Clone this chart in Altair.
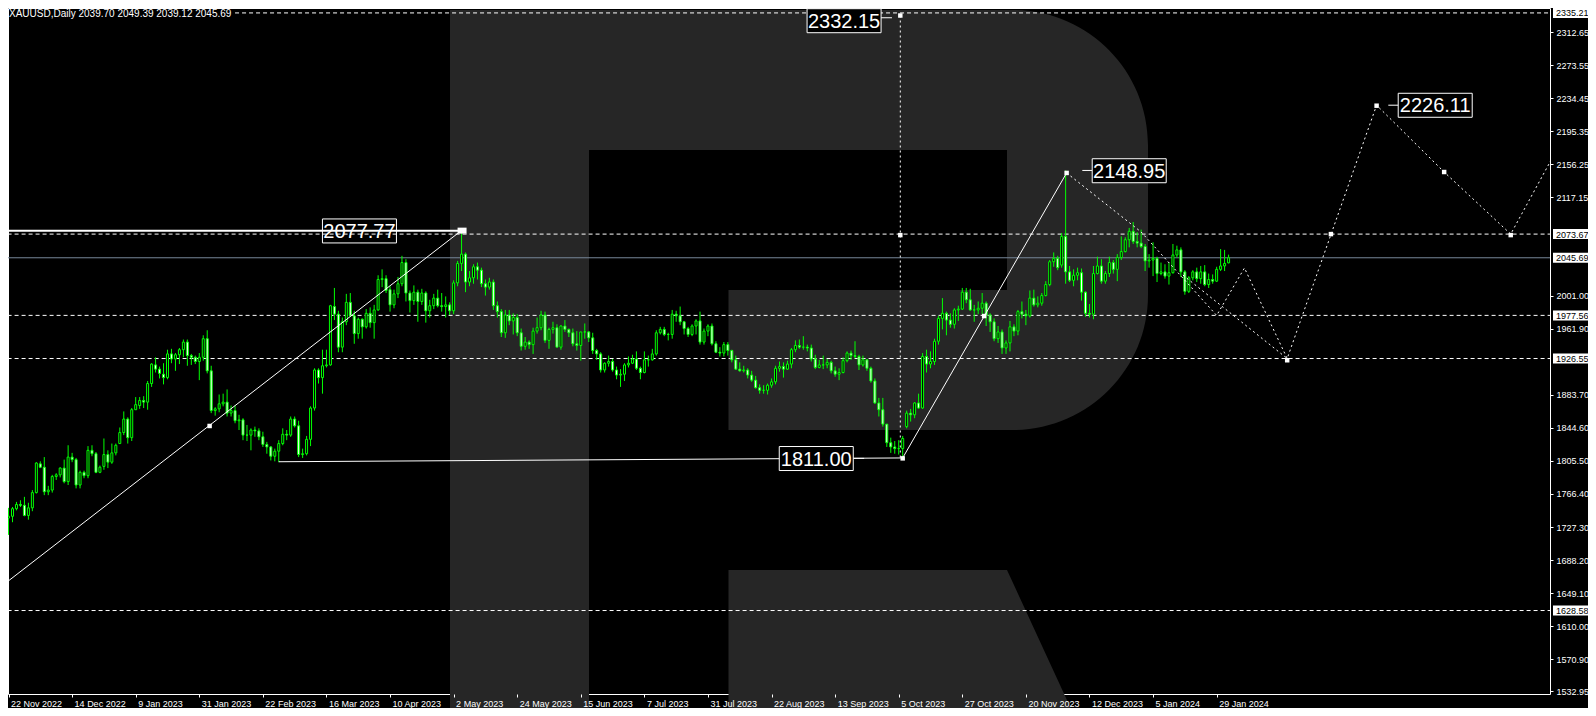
import json
import altair as alt
import pandas as pd

# ---------------- data ----------------
TICK_BARS = [0, 16, 32, 48, 64, 80, 96, 112, 128, 144, 160, 176, 192, 208, 224, 240, 256, 272, 288, 304]
TICK_LABELS = ["22 Nov 2022", "14 Dec 2022", "9 Jan 2023", "31 Jan 2023", "22 Feb 2023", "16 Mar 2023",
               "10 Apr 2023", "2 May 2023", "24 May 2023", "15 Jun 2023", "7 Jul 2023", "31 Jul 2023",
               "22 Aug 2023", "13 Sep 2023", "5 Oct 2023", "27 Oct 2023", "20 Nov 2023", "12 Dec 2023",
               "5 Jan 2024", "29 Jan 2024"]

OPEN = [
    1738, 1740, 1749, 1754, 1753, 1741, 1750, 1768, 1802, 1798, 1769, 1771, 1787, 1789, 1797, 1781,
    1810, 1807, 1777, 1792, 1788, 1818, 1814, 1792, 1799, 1813, 1804, 1815, 1826, 1839, 1855, 1833,
    1866, 1871, 1877, 1875, 1897, 1919, 1914, 1908, 1904, 1932, 1926, 1931, 1937, 1946, 1930, 1928,
    1923, 1928, 1950, 1912, 1865, 1867, 1873, 1875, 1862, 1865, 1853, 1854, 1836, 1836, 1842, 1841,
    1834, 1825, 1822, 1811, 1817, 1826, 1837, 1836, 1855, 1847, 1813, 1814, 1831, 1868, 1913, 1904,
    1918, 1919, 1988, 1979, 1940, 1970, 1993, 1977, 1956, 1973, 1964, 1980, 1969, 1984, 2020, 2021,
    2008, 1990, 2003, 2015, 2040, 2004, 1995, 2005, 1994, 2004, 1983, 1989, 1998, 1989, 1988, 1990,
    1983, 2016, 2039, 2050, 2017, 2022, 2035, 2031, 2015, 2011, 2017, 1989, 1982, 1957, 1978, 1971,
    1975, 1957, 1941, 1946, 1943, 1959, 1963, 1978, 1948, 1961, 1963, 1940, 1965, 1961, 1957, 1944,
    1942, 1958, 1958, 1951, 1936, 1932, 1913, 1921, 1923, 1913, 1907, 1908, 1919, 1921, 1926, 1915,
    1910, 1925, 1925, 1932, 1957, 1961, 1955, 1955, 1979, 1977, 1970, 1962, 1955, 1965, 1971, 1946,
    1959, 1965, 1944, 1934, 1933, 1943, 1936, 1925, 1914, 1912, 1913, 1907, 1901, 1892, 1889, 1889,
    1895, 1899, 1915, 1917, 1914, 1920, 1937, 1942, 1940, 1940, 1939, 1926, 1916, 1919, 1919, 1922,
    1912, 1908, 1910, 1924, 1933, 1930, 1929, 1919, 1925, 1915, 1900, 1874, 1866, 1849, 1827, 1822,
    1820, 1820, 1846, 1862, 1860, 1874, 1868, 1929, 1920, 1923, 1947, 1974, 1980, 1972, 1967, 1984,
    1985, 2005, 1996, 1984, 1984, 1986, 1992, 1978, 1970, 1950, 1958, 1939, 1945, 1964, 1959, 1982,
    1979, 1977, 1998, 1990, 1992, 2001, 2014, 2041, 2045, 2037, 2071, 2029, 2019, 2025, 2028, 2005,
    1980, 1979, 2027, 2036, 2018, 2027, 2040, 2032, 2046, 2053, 2067, 2077, 2065, 2063, 2059, 2042,
    2043, 2045, 2027, 2029, 2024, 2028, 2049, 2055, 2029, 2006, 2022, 2029, 2021, 2029, 2014, 2020,
    2018, 2032, 2036, 2039.70,
]
HIGH = [
    1750, 1751, 1757, 1759, 1763, 1756, 1771, 1804, 1805, 1810, 1776, 1789, 1791, 1798, 1807, 1824,
    1815, 1809, 1794, 1794, 1823, 1824, 1816, 1800, 1832, 1818, 1826, 1826, 1845, 1864, 1857, 1868,
    1881, 1881, 1882, 1900, 1921, 1928, 1917, 1921, 1937, 1938, 1933, 1939, 1949, 1949, 1932, 1930,
    1933, 1954, 1960, 1918, 1869, 1884, 1885, 1890, 1871, 1871, 1860, 1856, 1848, 1844, 1846, 1844,
    1840, 1828, 1823, 1820, 1830, 1844, 1842, 1858, 1858, 1853, 1820, 1835, 1870, 1915, 1915, 1937,
    1937, 1990, 2010, 1983, 1975, 2003, 2004, 1983, 1975, 1974, 1985, 1987, 1990, 2025, 2032, 2025,
    2012, 2008, 2023, 2048, 2044, 2007, 2013, 2008, 2009, 2006, 1996, 2003, 2008, 2004, 2000, 1993,
    2019, 2042, 2078, 2052, 2030, 2038, 2040, 2034, 2020, 2022, 2020, 1994, 1985, 1984, 1984, 1980,
    1979, 1962, 1952, 1948, 1963, 1975, 1983, 1982, 1963, 1970, 1967, 1966, 1972, 1962, 1962, 1959,
    1958, 1968, 1959, 1957, 1938, 1934, 1922, 1930, 1926, 1917, 1914, 1921, 1929, 1931, 1935, 1917,
    1935, 1930, 1938, 1960, 1964, 1964, 1957, 1984, 1983, 1988, 1971, 1964, 1967, 1973, 1982, 1962,
    1967, 1968, 1947, 1940, 1946, 1946, 1937, 1930, 1922, 1918, 1915, 1912, 1906, 1896, 1895, 1897,
    1903, 1918, 1923, 1922, 1924, 1939, 1948, 1949, 1953, 1943, 1943, 1931, 1925, 1930, 1926, 1924,
    1917, 1915, 1928, 1935, 1936, 1947, 1931, 1930, 1926, 1917, 1903, 1880, 1880, 1849, 1833, 1829,
    1830, 1835, 1865, 1867, 1875, 1885, 1933, 1937, 1935, 1950, 1977, 1998, 1982, 1980, 1986, 1989,
    2010, 2010, 2009, 1990, 1994, 2004, 1994, 1980, 1974, 1965, 1961, 1948, 1971, 1967, 1984, 1994,
    1984, 2007, 2008, 2000, 2004, 2018, 2043, 2052, 2048, 2075, 2148.95, 2036, 2032, 2034, 2033, 2006,
    1991, 2036, 2047, 2044, 2030, 2047, 2043, 2050, 2071, 2070, 2081, 2088, 2076, 2079, 2062, 2050,
    2064, 2047, 2040, 2038, 2040, 2062, 2060, 2058, 2031, 2024, 2031, 2034, 2036, 2037, 2027, 2026,
    2035, 2056, 2055, 2049.39,
]
LOW = [
    1718, 1733, 1747, 1751, 1740, 1736, 1746, 1767, 1797, 1765, 1765, 1768, 1783, 1786, 1779, 1777,
    1804, 1773, 1773, 1785, 1785, 1811, 1791, 1791, 1795, 1797, 1802, 1812, 1826, 1836, 1826, 1829,
    1866, 1867, 1868, 1866, 1893, 1910, 1903, 1896, 1902, 1921, 1912, 1920, 1928, 1918, 1919, 1920,
    1901, 1924, 1909, 1862, 1859, 1863, 1870, 1858, 1858, 1850, 1842, 1830, 1829, 1818, 1834, 1830,
    1822, 1814, 1806, 1805, 1804, 1824, 1830, 1834, 1845, 1810, 1809, 1812, 1823, 1865, 1897, 1885,
    1916, 1918, 1972, 1934, 1934, 1966, 1976, 1944, 1950, 1950, 1962, 1963, 1950, 1983, 2011, 2004,
    1982, 1986, 1998, 2012, 1994, 1981, 1990, 1970, 1990, 1969, 1975, 1985, 1987, 1982, 1975, 1978,
    1979, 2012, 2030, 2005, 2012, 2015, 2020, 2011, 2001, 2008, 1984, 1975, 1952, 1951, 1966, 1955,
    1953, 1936, 1937, 1938, 1932, 1956, 1960, 1945, 1938, 1956, 1940, 1937, 1958, 1952, 1941, 1936,
    1924, 1950, 1946, 1932, 1925, 1910, 1910, 1917, 1911, 1902, 1893, 1900, 1916, 1920, 1913, 1902,
    1909, 1917, 1924, 1930, 1955, 1953, 1948, 1950, 1970, 1966, 1955, 1952, 1953, 1955, 1943, 1943,
    1953, 1942, 1933, 1929, 1929, 1930, 1922, 1913, 1911, 1910, 1903, 1899, 1891, 1885, 1885, 1884,
    1892, 1896, 1911, 1904, 1913, 1915, 1934, 1938, 1937, 1935, 1923, 1914, 1915, 1914, 1915, 1909,
    1905, 1901, 1909, 1922, 1925, 1927, 1913, 1917, 1912, 1898, 1873, 1858, 1846, 1822, 1815, 1814,
    1813, 1809, 1844, 1852, 1856, 1867, 1867, 1910, 1915, 1919, 1943, 1961, 1954, 1963, 1962, 1971,
    1984, 1992, 1983, 1970, 1979, 1979, 1965, 1958, 1947, 1945, 1932, 1932, 1935, 1953, 1954, 1974,
    1966, 1975, 1988, 1987, 1989, 2000, 2012, 2035, 2031, 2034, 2015, 2017, 2012, 2019, 1995, 1976,
    1975, 1973, 2026, 2015, 2015, 2023, 2027, 2018, 2043, 2052, 2058, 2062, 2058, 2057, 2030, 2034,
    2024, 2017, 2025, 2021, 2014, 2027, 2046, 2023, 2002, 2004, 2019, 2017, 2015, 2012, 2010, 2015,
    2017, 2030, 2030, 2039.12,
]
CLOSE = [
    1740, 1749, 1754, 1753, 1741, 1750, 1768, 1803, 1798, 1769, 1771, 1787, 1789, 1797, 1781, 1810,
    1807, 1777, 1792, 1788, 1818, 1814, 1792, 1798, 1813, 1804, 1815, 1824, 1839, 1855, 1833, 1866,
    1872, 1877, 1875, 1897, 1920, 1914, 1909, 1904, 1932, 1926, 1931, 1937, 1946, 1930, 1928, 1923,
    1928, 1950, 1912, 1865, 1867, 1873, 1875, 1862, 1865, 1853, 1854, 1836, 1836, 1842, 1841, 1834,
    1825, 1822, 1811, 1817, 1826, 1837, 1836, 1855, 1847, 1813, 1814, 1831, 1868, 1913, 1904, 1918,
    1919, 1989, 1979, 1940, 1970, 1993, 1977, 1956, 1973, 1964, 1980, 1969, 1984, 2020, 2021, 2007,
    1990, 2003, 2015, 2040, 2004, 1995, 2005, 1994, 2004, 1983, 1989, 1998, 1989, 1988, 1990, 1983,
    2016, 2039, 2050, 2017, 2022, 2035, 2031, 2015, 2011, 2017, 1989, 1982, 1957, 1978, 1971, 1975,
    1957, 1941, 1946, 1943, 1959, 1963, 1978, 1948, 1961, 1963, 1940, 1965, 1961, 1957, 1944, 1942,
    1958, 1958, 1951, 1936, 1932, 1913, 1921, 1923, 1913, 1907, 1908, 1919, 1921, 1926, 1915, 1910,
    1925, 1925, 1932, 1957, 1961, 1955, 1955, 1979, 1977, 1970, 1962, 1955, 1965, 1971, 1946, 1959,
    1965, 1944, 1934, 1933, 1943, 1936, 1925, 1914, 1912, 1913, 1907, 1901, 1892, 1889, 1889, 1895,
    1899, 1915, 1917, 1914, 1920, 1937, 1942, 1940, 1940, 1939, 1926, 1916, 1919, 1919, 1922, 1912,
    1908, 1910, 1924, 1933, 1930, 1929, 1919, 1925, 1915, 1900, 1874, 1866, 1849, 1827, 1822, 1820,
    1820, 1832, 1862, 1860, 1874, 1868, 1929, 1920, 1923, 1947, 1974, 1980, 1972, 1967, 1984, 1985,
    2005, 1996, 1984, 1984, 1986, 1992, 1978, 1970, 1950, 1958, 1939, 1945, 1964, 1959, 1982, 1979,
    1977, 1998, 1990, 1992, 2001, 2014, 2041, 2045, 2034, 2071, 2029, 2019, 2025, 2028, 2005, 1980,
    1979, 2027, 2036, 2018, 2027, 2040, 2032, 2046, 2053, 2067, 2077, 2065, 2063, 2059, 2042, 2043,
    2045, 2027, 2029, 2024, 2028, 2049, 2055, 2029, 2006, 2022, 2029, 2021, 2029, 2014, 2020, 2018,
    2032, 2036, 2039, 2045.69,
]

PRICE_TICKS = [2312.65, 2273.55, 2234.45, 2195.35, 2156.25, 2117.15, 2001.00, 1961.90, 1883.70,
               1844.60, 1805.50, 1766.40, 1727.30, 1688.20, 1649.10, 1610.00, 1570.90, 1532.95]

LEVEL_PRICES = [2335.21, 2073.67, 1977.56, 1926.55, 1628.58]
LEVEL_START_BAR = [57, -2, -2, -2, -2]
LAST_PRICE = 2045.69

# annotation polylines (bar index, price)
SOLID_SEG = ["a", "a", "b", "b", "c", "c"]
SOLID_BAR = [-0.75, 114, 68, 225, 225, 266.25]
SOLID_PRICE = [1661, 2078, 1804.5, 1809, 1809, 2146]

THICK_BAR = [-0.75, 114]
THICK_PRICE = [2077.77, 2077.77]

FCAST_SEG = ["e"] * 10 + ["f", "f"]
FCAST_BAR = [266.25, 285, 304, 311, 321.75, 344.25, 361.25, 378, 389.75, 392, 295.5, 321.75]
FCAST_PRICE = [2146, 2076.2, 1977.56, 2033.6, 1926.55, 2226.11, 2147.1, 2073.67, 2175, 2180, 2025.3, 1926.55]

VERT_BAR = [224.4, 224.4]
VERT_PRICE = [2332.15, 1809]

MARK_BAR = [50.6, 224.4, 224.4, 225, 245.5, 266.25, 321.75, 332.75, 344.25, 361.25, 378]
MARK_PRICE = [1846.8, 2332.15, 2072.5, 1808.5, 1976.8, 2146, 1924.5, 2073.67, 2225.5, 2147.1, 2072.5]

LABEL_TEXT = ["2332.15", "2077.77", "1811.00", "2148.95", "2226.11"]
LABEL_BAR = [210.25, 88.3, 203.25, 282.0, 359.0]
LABEL_PRICE = [2326.0, 2077.4, 1808.3, 2148.6, 2226.0]

DASH_SEG = ["p", "p", "q", "q", "r", "r", "s", "s"]
DASH_BAR = [219.5, 222.3, 212.5, 215.3, 270.2, 272.8, 347.2, 349.8]
DASH_PRICE = [2329.5, 2329.5, 1808.5, 1808.5, 2148.95, 2148.95, 2226.11, 2226.11]

TITLE = "XAUUSD,Daily  2039.70 2049.39 2039.12 2045.69"

assert len(OPEN) == len(HIGH) == len(LOW) == len(CLOSE) == 308

# ---------------- styling ----------------
W, H = 1542, 686
FONT = "Liberation Sans"
LIME = "#00ff00"
WHITE = "#ffffff"
GREY_R = "#262626"

XS = alt.Scale(domain=[1.125, 386.625], nice=False, zero=False)
YS = alt.Scale(domain=[1529.87, 2341.03], nice=False, zero=False)

label_expr = json.dumps(TICK_LABELS).replace('"', "'") + "[round(datum.value / 16)]"
XAX = alt.Axis(values=TICK_BARS, labelExpr=label_expr, title=None, grid=False, domain=False,
               tickSize=3, tickColor=WHITE, labelColor=WHITE, labelFont=FONT, labelFontSize=9,
               labelAlign="left", labelBaseline="alphabetic", labelPadding=9, labelOffset=2,
               labelFlush=False, labelOverlap=False, zindex=1)
YAX = alt.Axis(orient="right", values=PRICE_TICKS, format=".2f", title=None, grid=False, domain=False,
               tickSize=3, tickColor=WHITE, labelColor=WHITE, labelFont=FONT, labelFontSize=9,
               labelPadding=3, labelOverlap=False, labelFlush=False, zindex=1)


def X(field="bar"):
    return alt.X(f"{field}:Q", scale=XS, axis=XAX)


def Y(field="price"):
    return alt.Y(f"{field}:Q", scale=YS, axis=YAX)


candles = pd.DataFrame({"bar": list(range(len(CLOSE))), "open": OPEN, "high": HIGH,
                        "low": LOW, "close": CLOSE})
one = pd.DataFrame({"k": [0]})

# watermark "R"
R_PATH = ("M442,2 H1005 A135,135 0 0 1 1140,137 V287 A135,135 0 0 1 1005,422 H720.5 V282 H999 V142 "
          "H581 V703 H442 Z M720.5,562 H999 L1064,703 H720.5 Z")
watermark = alt.Chart(one).mark_point(shape=R_PATH, size=4, filled=True, fill=GREY_R, opacity=1,
                                      strokeWidth=0).encode(x=alt.value(0), y=alt.value(0))

levels_df = pd.DataFrame({"price": LEVEL_PRICES, "bar": LEVEL_START_BAR})
level_lines = alt.Chart(levels_df).mark_rule(color=WHITE, strokeWidth=1, strokeDash=[4, 3], clip=True).encode(
    x=X(), x2=alt.value(W), y=Y())

last_df = pd.DataFrame({"price": [LAST_PRICE]})
last_line = alt.Chart(last_df).mark_rule(color="#778899", strokeWidth=1).encode(y=Y())

wicks = alt.Chart(candles).mark_rule(color=LIME, strokeWidth=1, clip=True).encode(
    x=X(), y=Y("low"), y2="high:Q")
bodies = alt.Chart(candles).mark_bar(size=2, stroke=LIME, strokeWidth=1, clip=True).encode(
    x=X(), y=Y("open"), y2="close:Q",
    fill=alt.condition("datum.close < datum.open", alt.value(WHITE), alt.value("#000000")))

solid_df = pd.DataFrame({"seg": SOLID_SEG, "bar": SOLID_BAR, "price": SOLID_PRICE,
                         "ord": list(range(len(SOLID_BAR)))})
solid = alt.Chart(solid_df).mark_line(color=WHITE, strokeWidth=1, clip=True).encode(
    x=X(), y=Y(), detail="seg:N", order="ord:Q")

thick_df = pd.DataFrame({"bar": THICK_BAR, "price": THICK_PRICE})
thick = alt.Chart(thick_df).mark_line(color=WHITE, strokeWidth=2, clip=True).encode(x=X(), y=Y())

fc_df = pd.DataFrame({"seg": FCAST_SEG, "bar": FCAST_BAR, "price": FCAST_PRICE,
                      "ord": list(range(len(FCAST_BAR)))})
fcast = alt.Chart(fc_df).mark_line(color=WHITE, strokeWidth=1, strokeDash=[2, 3], clip=True).encode(
    x=X(), y=Y(), detail="seg:N", order="ord:Q")

vert_df = pd.DataFrame({"bar": VERT_BAR, "price": VERT_PRICE})
vert = alt.Chart(vert_df).mark_line(color=WHITE, strokeWidth=1, strokeDash=[2, 3]).encode(x=X(), y=Y())

mark_df = pd.DataFrame({"bar": MARK_BAR, "price": MARK_PRICE})
markers = alt.Chart(mark_df).mark_square(size=20, color=WHITE, opacity=1, clip=True).encode(x=X(), y=Y())
big_marker = alt.Chart(pd.DataFrame({"bar": [114], "price": [2077.77]})).mark_rect(
    color=WHITE, xOffset=-4, x2Offset=5, yOffset=-3, y2Offset=3).encode(
    x=X(), x2="bar:Q", y=Y(), y2="price:Q")

dash_df = pd.DataFrame({"seg": DASH_SEG, "bar": DASH_BAR, "price": DASH_PRICE})
dashes = alt.Chart(dash_df).mark_line(color=WHITE, strokeWidth=1).encode(x=X(), y=Y(), detail="seg:N")

lab_df = pd.DataFrame({"text": LABEL_TEXT, "bar": LABEL_BAR, "price": LABEL_PRICE})
lab_box = alt.Chart(lab_df).mark_rect(stroke=WHITE, strokeWidth=1, xOffset=-37, x2Offset=37,
                                      yOffset=-12, y2Offset=12).encode(
    x=X(), x2="bar:Q", y=Y(), y2="price:Q",
    fill=alt.condition("datum.text == '2077.77'", alt.value("transparent"), alt.value("#000000")))
lab_text = alt.Chart(lab_df).mark_text(color=WHITE, font=FONT, fontSize=20, align="center",
                                       baseline="middle", dy=1).encode(x=X(), y=Y(), text="text:N")

box_df = pd.DataFrame({"price": LEVEL_PRICES + [LAST_PRICE]})
axis_box = alt.Chart(box_df).mark_rect(fill=WHITE, yOffset=-5, y2Offset=5).encode(
    x=alt.value(W + 3), x2=alt.value(W + 42), y=Y(), y2="price:Q")
axis_box_text = alt.Chart(box_df).mark_text(color="#000000", font=FONT, fontSize=9, align="left",
                                            baseline="middle", dy=0.5).encode(
    x=alt.value(W + 6), y=Y(), text=alt.Text("price:Q", format=".2f"))

title = alt.Chart(one).mark_text(color=WHITE, font=FONT, fontSize=10, align="left",
                                 baseline="alphabetic", text=TITLE).encode(x=alt.value(1), y=alt.value(8.5))

chart = alt.layer(
    watermark, level_lines, last_line, wicks, bodies, solid, thick, vert, fcast, markers, big_marker,
    dashes, lab_box, lab_text, axis_box, axis_box_text, title
).properties(
    width=W, height=H, background="#000000",
    autosize=alt.AutoSizeParams(type="none"),
    padding={"left": 0, "top": 0, "right": 38, "bottom": 14},
).configure_view(stroke=WHITE, strokeWidth=1)

chart.save("out.html", embed_options={"renderer": "svg", "actions": False})
